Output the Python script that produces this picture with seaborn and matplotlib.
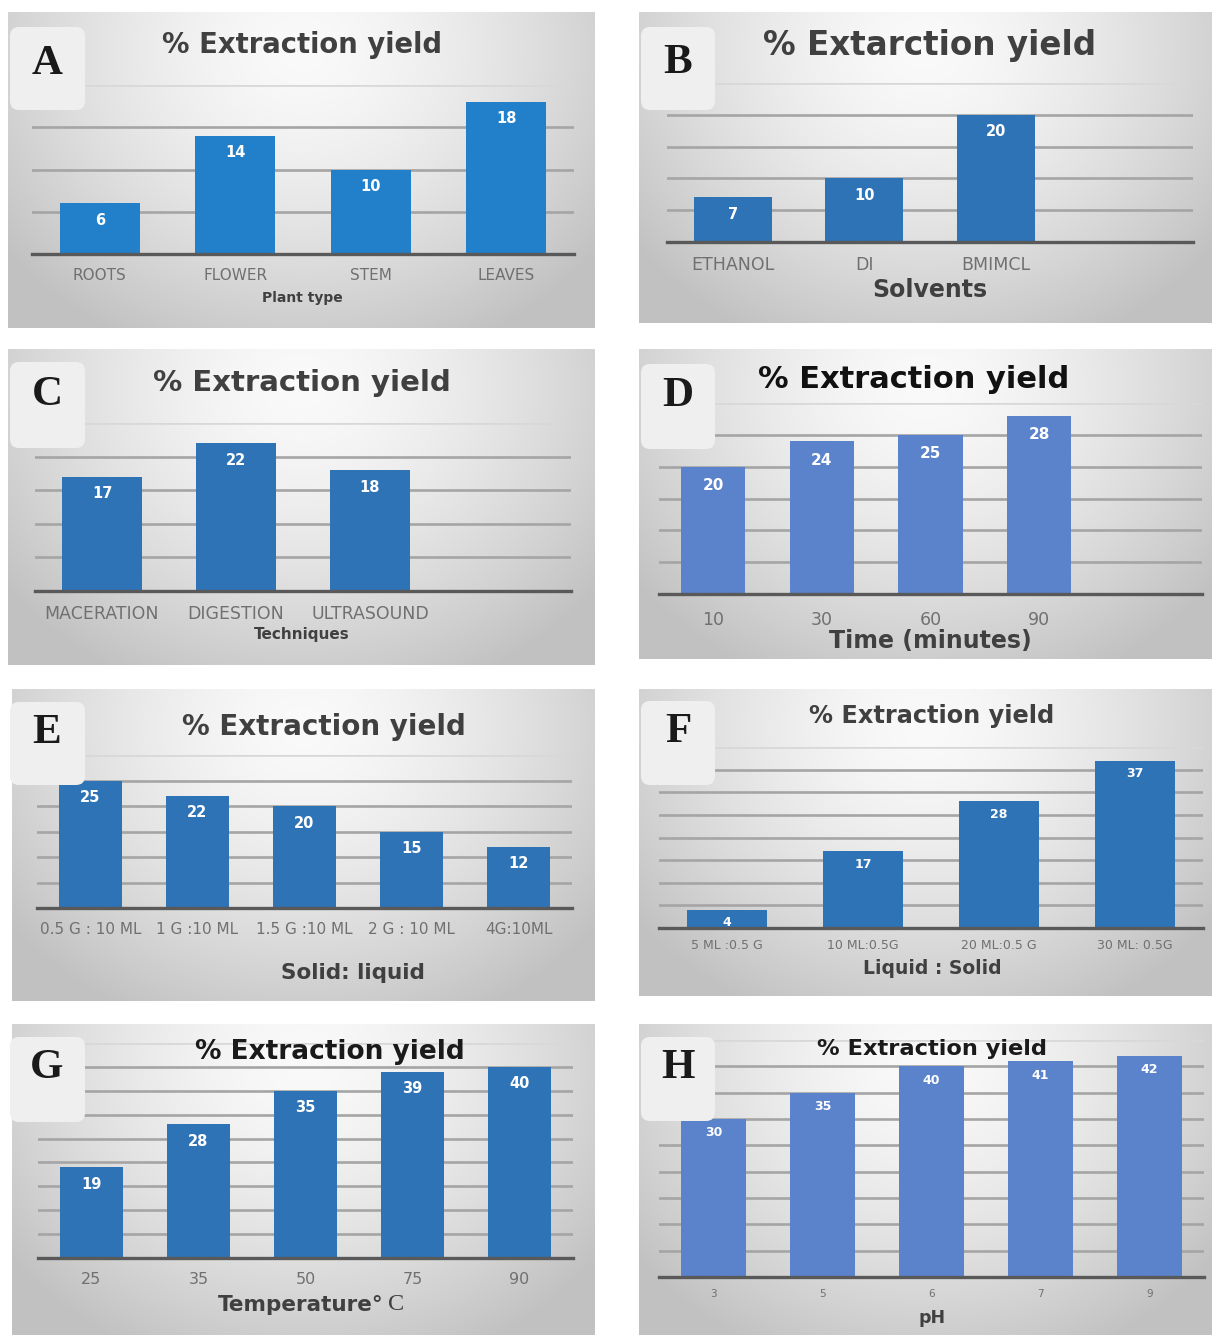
import numpy as np
import matplotlib
matplotlib.use("Agg")
import matplotlib.pyplot as plt
from matplotlib.patches import FancyBboxPatch
import seaborn as sns

# ---- data -------------------------------------------------------------
plant_types = ["ROOTS", "FLOWER", "STEM", "LEAVES"]
plant_yield = [6, 14, 10, 18]

solvents = ["ETHANOL", "DI", "BMIMCL"]
solvent_yield = [7, 10, 20]

techniques = ["MACERATION", "DIGESTION", "ULTRASOUND"]
technique_yield = [17, 22, 18]

times = ["10", "30", "60", "90"]
time_yield = [20, 24, 25, 28]

solid_liquid = ["0.5 G : 10 ML", "1 G :10 ML", "1.5 G :10 ML", "2 G : 10 ML", "4G:10ML"]
solid_liquid_yield = [25, 22, 20, 15, 12]

liquid_solid = ["5 ML :0.5 G", "10 ML:0.5G", "20 ML:0.5 G", "30 ML: 0.5G"]
liquid_solid_yield = [4, 17, 28, 37]

temperatures = ["25", "35", "50", "75", "90"]
temperature_yield = [19, 28, 35, 39, 40]

ph_values = ["3", "5", "6", "7", "9"]
ph_yield = [30, 35, 40, 41, 42]

# ---- figure -----------------------------------------------------------
W, H = 1212, 1335
DPI = 100
plt.rcParams["font.family"] = ["DejaVu Sans"]
fig = plt.figure(figsize=(W / DPI, H / DPI), dpi=DPI)
fig.patch.set_facecolor("white")


def fx(x):
    return x / W


def fy(y):
    return 1 - y / H


def gradient_background(x0, y0, x1, y1):
    ax = fig.add_axes([fx(x0), fy(y1), fx(x1 - x0), (y1 - y0) / H], zorder=0)
    ny, nx = 160, 240
    yy, xx = np.mgrid[0:1:ny * 1j, 0:1:nx * 1j]
    r = np.sqrt(((xx - 0.5) / 0.62) ** 2 + ((yy - 0.12) / 1.0) ** 2)
    g = 0.98 - 0.21 * np.clip(r, 0, 1.2) ** 1.5
    g = np.clip(g, 0.76, 1.0)
    ax.imshow(np.dstack([g, g, g]), aspect="auto", extent=(0, 1, 1, 0), interpolation="bilinear")
    ax.set_axis_off()


def letter_box(x0, y0, x1, y1, letter, lx, ly):
    box = FancyBboxPatch((x0 / DPI, (H - y1) / DPI), (x1 - x0) / DPI, (y1 - y0) / DPI,
                         boxstyle="round,pad=0,rounding_size=0.09",
                         transform=fig.dpi_scale_trans, facecolor="#EFEFEF",
                         edgecolor="none", zorder=5)
    fig.add_artist(box)
    fig.text(fx(lx), fy(ly), letter, family="Liberation Serif", weight="bold",
             fontsize=31, color="#1a1a1a", ha="center", va="center", zorder=6)


panels = [
    dict(cats=plant_types, vals=plant_yield, color="#2280CA", bg=(8, 12, 595, 328),
         ax_x=(32, 574), base=254, top=85, ymax=20, slots=4,
         title="% Extraction yield", title_xy=(302, 45), title_fs=19.8, title_c="#404040",
         box=(10, 27, 85, 110), letter="A", letter_xy=(47, 64),
         xlabel="Plant type", xlabel_xy=(302, 298), xlabel_fs=10,
         tick_fs=11, tick_off=20, val_fs=10.5, val_off=17),
    dict(cats=solvents, vals=solvent_yield, color="#2E73B6", bg=(639, 12, 1212, 323),
         ax_x=(667, 1193), base=242, top=83, ymax=25, slots=4,
         title="% Extarction yield", title_xy=(930, 45), title_fs=23.5, title_c="#404040",
         box=(641, 27, 715, 110), letter="B", letter_xy=(678, 63),
         xlabel="Solvents", xlabel_xy=(930, 290), xlabel_fs=17,
         tick_fs=12.5, tick_off=20, val_fs=10.5, val_off=17),
    dict(cats=techniques, vals=technique_yield, color="#2E73B6", bg=(8, 349, 595, 665),
         ax_x=(35, 571), base=591, top=423, ymax=25, slots=4,
         title="% Extraction yield", title_xy=(302, 383), title_fs=21, title_c="#404040",
         box=(10, 362, 85, 448), letter="C", letter_xy=(47, 395),
         xlabel="Techniques", xlabel_xy=(302, 634), xlabel_fs=11,
         tick_fs=12.5, tick_off=20, val_fs=10.5, val_off=17),
    dict(cats=times, vals=time_yield, color="#5A83CB", bg=(639, 349, 1212, 659),
         ax_x=(659, 1202), base=594, top=403, ymax=30, slots=5,
         title="% Extraction yield", title_xy=(914, 380), title_fs=22, title_c="#111111",
         box=(641, 364, 715, 449), letter="D", letter_xy=(678, 396),
         xlabel="Time (minutes)", xlabel_xy=(930, 641), xlabel_fs=17,
         tick_fs=12.5, tick_off=23, val_fs=11, val_off=19),
    dict(cats=solid_liquid, vals=solid_liquid_yield, color="#2E73B6", bg=(12, 689, 595, 1001),
         ax_x=(37, 572), base=908, top=755, ymax=30, slots=5,
         title="% Extraction yield", title_xy=(324, 727), title_fs=20, title_c="#404040",
         box=(10, 702, 85, 785), letter="E", letter_xy=(47, 733),
         xlabel="Solid: liquid", xlabel_xy=(353, 973), xlabel_fs=15.5,
         tick_fs=11, tick_off=20, val_fs=10.5, val_off=17),
    dict(cats=liquid_solid, vals=liquid_solid_yield, color="#2E73B6", bg=(639, 689, 1212, 996),
         ax_x=(659, 1203), base=928, top=747, ymax=40, slots=4,
         title="% Extraction yield", title_xy=(932, 716), title_fs=17.3, title_c="#404040",
         box=(641, 701, 715, 785), letter="F", letter_xy=(678, 732),
         xlabel="Liquid : Solid", xlabel_xy=(932, 968), xlabel_fs=13.5,
         tick_fs=9, tick_off=16, val_fs=9, val_off=13),
    dict(cats=temperatures, vals=temperature_yield, color="#2E73B6", bg=(12, 1024, 595, 1335),
         ax_x=(38, 573), base=1258, top=1043, ymax=45, slots=5,
         title="% Extraction yield", title_xy=(330, 1052), title_fs=19, title_c="#1a1a1a",
         box=(10, 1037, 85, 1122), letter="G", letter_xy=(47, 1068),
         xlabel=None, xlabel_xy=(305, 1305), xlabel_fs=15.5,
         tick_fs=11.5, tick_off=20, val_fs=10.5, val_off=17),
    dict(cats=ph_values, vals=ph_yield, color="#5A83CB", bg=(639, 1024, 1212, 1335),
         ax_x=(659, 1204), base=1277, top=1040, ymax=45, slots=5,
         title="% Extraction yield", title_xy=(932, 1049), title_fs=16.2, title_c="#1a1a1a",
         box=(641, 1037, 715, 1121), letter="H", letter_xy=(678, 1068),
         xlabel="pH", xlabel_xy=(932, 1318), xlabel_fs=12.5,
         tick_fs=7.5, tick_off=16, val_fs=9, val_off=14),
]

for p in panels:
    gradient_background(*p["bg"])

    x0, x1 = p["ax_x"]
    ax = fig.add_axes([fx(x0), fy(p["base"]), fx(x1 - x0), (p["base"] - p["top"]) / H], zorder=2)
    ax.patch.set_alpha(0)

    sns.barplot(x=p["cats"], y=p["vals"], ax=ax, color=p["color"], saturation=1,
                width=0.59, zorder=3)
    ax.set_xlim(-0.5, p["slots"] - 0.5)
    ax.set_ylim(0, p["ymax"])

    # horizontal gridlines every 5 units, topmost one fading out
    ticks = np.arange(5, p["ymax"] + 0.1, 5)
    ax.set_yticks(ticks)
    ax.yaxis.grid(True, color="#A5A5A5", linewidth=1.9, zorder=1)
    ax.set_axisbelow(True)
    glines = ax.get_ygridlines()
    if glines:
        glines[-1].set_color("#D8D8D8")
    ax.tick_params(axis="y", length=0, labelleft=False)

    for side in ("left", "right", "top"):
        ax.spines[side].set_visible(False)
    ax.spines["bottom"].set_color("#595959")
    ax.spines["bottom"].set_linewidth(2.4)
    ax.spines["bottom"].set_zorder(4)

    # category labels under the baseline
    tick_h = p["tick_fs"] * 0.73 * DPI / 72
    pad_pt = (p["tick_off"] - tick_h / 2) * 72 / DPI
    ax.set_xticks(range(len(p["cats"])))
    ax.set_xticklabels(p["cats"])
    ax.tick_params(axis="x", length=0, pad=pad_pt, labelsize=p["tick_fs"],
                   labelcolor="#707070")
    ax.set_xlabel("")
    ax.set_ylabel("")

    # value labels inside the bars
    off_pt = p["val_off"] * 72 / DPI
    for i, v in enumerate(p["vals"]):
        ax.annotate(f"{v}", (i, v), xytext=(0, -off_pt), textcoords="offset points",
                    ha="center", va="center", color="white", fontweight="bold",
                    fontsize=p["val_fs"], zorder=5)

    fig.text(fx(p["title_xy"][0]), fy(p["title_xy"][1]), p["title"], ha="center",
             va="center", fontsize=p["title_fs"], fontweight="bold", color=p["title_c"],
             zorder=6)

    if p["xlabel"] is not None:
        fig.text(fx(p["xlabel_xy"][0]), fy(p["xlabel_xy"][1]), p["xlabel"], ha="center",
                 va="center", fontsize=p["xlabel_fs"], fontweight="bold", color="#404040",
                 zorder=6)
    else:
        fig.text(fx(384), fy(p["xlabel_xy"][1]), "Temperature°", ha="right", va="center",
                 fontsize=p["xlabel_fs"], fontweight="bold", color="#404040", zorder=6)
        fig.text(fx(388), fy(p["xlabel_xy"][1]), "C", ha="left", va="center",
                 family="Liberation Serif", fontsize=p["xlabel_fs"] + 2, color="#404040",
                 zorder=6)

    letter_box(*p["box"], p["letter"], *p["letter_xy"])

fig.savefig("out.png", dpi=DPI, facecolor="white")
